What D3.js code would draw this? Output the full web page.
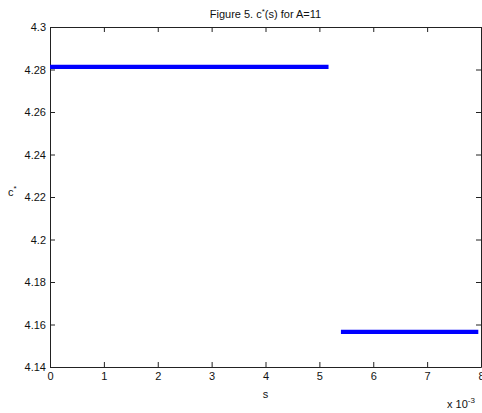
<!DOCTYPE html>
<html>
<head>
<meta charset="utf-8">
<script src="https://cdn.jsdelivr.net/npm/d3@7"></script>
<style>
  body { margin: 0; background: #fff; }
  svg { display: block; font-family: Arial, "Liberation Sans", sans-serif; }
  .g-axis text { font-size: 11px; fill: #111; }
  .g-axis path, .g-axis line { stroke: #222; }
</style>
</head>
<body>
<main></main>
<script>
// two constant pieces of c*(s), s in absolute units
const seg1S = [0, 0.00517];
const seg1C = [4.2812, 4.2812];
const seg2S = [0.0054, 0.00795];
const seg2C = [4.1565, 4.1565];

const xTicks = [0, 0.001, 0.002, 0.003, 0.004, 0.005, 0.006, 0.007, 0.008];
const yTicks = [4.14, 4.16, 4.18, 4.2, 4.22, 4.24, 4.26, 4.28, 4.3];

const $main = d3.select('main');
const W = 482, H = 413;
const margin = { top: 27, right: 1, bottom: 46, left: 50 };
const width = W - margin.left - margin.right;
const height = H - margin.top - margin.bottom;

const $svg = $main.append('svg').attr('width', W).attr('height', H);
const $g = $svg.append('g').attr('transform', `translate(${margin.left}, ${margin.top})`);

const scaleX = d3.scaleLinear().domain([0, 0.008]).range([0, width]);
const scaleY = d3.scaleLinear().domain([4.14, 4.3]).range([height, 0]);

const fmtX = d => d3.format('d')(Math.round(d * 1000));
const fmtY = d => String(+d.toFixed(2));

// inward ticks on all four sides (matlab box)
const axisB = d3.axisBottom(scaleX).tickValues(xTicks).tickFormat(fmtX).tickSizeInner(-5).tickSizeOuter(0).tickPadding(5);
const axisT = d3.axisTop(scaleX).tickValues(xTicks).tickFormat('').tickSizeInner(-5).tickSizeOuter(0);
const axisL = d3.axisLeft(scaleY).tickValues(yTicks).tickFormat(fmtY).tickSizeInner(-5).tickSizeOuter(0).tickPadding(4);
const axisR = d3.axisRight(scaleY).tickValues(yTicks).tickFormat('').tickSizeInner(-5).tickSizeOuter(0);

$g.append('g').attr('class', 'g-axis').attr('transform', `translate(0, ${height})`).call(axisB);
$g.append('g').attr('class', 'g-axis').call(axisT);
$g.append('g').attr('class', 'g-axis').call(axisL);
$g.append('g').attr('class', 'g-axis').attr('transform', `translate(${width}, 0)`).call(axisR);

$g.selectAll('.g-axis text').attr('dy', null);
$g.selectAll('.g-axis').filter((d, i) => i === 0).selectAll('text').attr('dy', '0.71em');
$g.selectAll('.g-axis').filter((d, i) => i === 2).selectAll('text').attr('dy', '0.35em');

const line = d3.line().x(d => scaleX(d[0])).y(d => scaleY(d[1]));

[[seg1S, seg1C], [seg2S, seg2C]].forEach(([s, c]) => {
  $g.append('path')
    .datum(d3.zip(s, c))
    .attr('d', line)
    .attr('fill', 'none')
    .attr('stroke', '#0000ff')
    .attr('stroke-width', 4.2);
});

// title
const $title = $svg.append('text')
  .attr('x', margin.left + width / 2)
  .attr('y', 18)
  .attr('text-anchor', 'middle')
  .style('font-size', '11px')
  .attr('fill', '#111');
$title.append('tspan').text('Figure 5. c');
$title.append('tspan').attr('dy', -4).style('font-size', '8px').text('*');
$title.append('tspan').attr('dy', 4).text('(s) for A=11');

// axis labels
$svg.append('text')
  .attr('x', margin.left + width / 2)
  .attr('y', 398)
  .attr('text-anchor', 'middle')
  .style('font-size', '11px')
  .attr('fill', '#111')
  .text('s');

const $yl = $svg.append('text')
  .attr('x', 8)
  .attr('y', 196)
  .style('font-size', '11px')
  .attr('fill', '#111');
$yl.append('tspan').text('c');
$yl.append('tspan').attr('dy', -5).style('font-size', '8px').text('*');

const $exp = $svg.append('text')
  .attr('x', 447)
  .attr('y', 408)
  .style('font-size', '11px')
  .attr('fill', '#111');
$exp.append('tspan').text('x 10');
$exp.append('tspan').attr('dy', -5).style('font-size', '8px').text('-3');
</script>
</body>
</html>
